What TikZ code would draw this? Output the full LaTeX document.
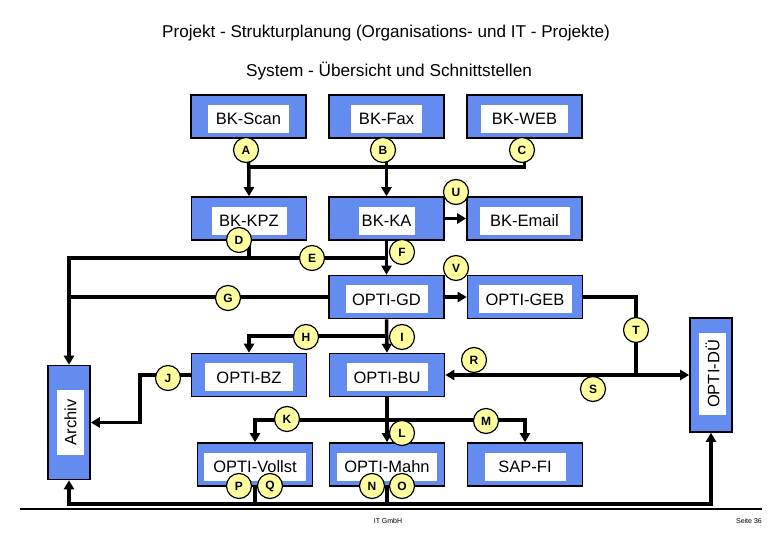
\documentclass[tikz,border=0pt]{standalone}
\usepackage{fontspec}
\setmainfont{Liberation Sans}
\usetikzlibrary{arrows.meta, positioning}
\definecolor{boxblue}{RGB}{100,140,240}
\definecolor{markfill}{RGB}{255,255,160}

\begin{document}
\begin{tikzpicture}[x=1pt, y=-1pt,
    sysbox/.style={draw, line width=1.6pt, fill=boxblue, minimum width=115pt, minimum height=43pt},
    tallbox/.style={sysbox, minimum width=42pt, minimum height=114pt},
    syslabel/.style={fill=white, minimum height=28pt, inner sep=0pt, font=\fontsize{16.5}{18}\selectfont},
    iface/.style={circle, draw, line width=1.2pt, fill=markfill, minimum size=25pt, inner sep=0pt, font=\fontsize{12}{12}\selectfont\bfseries},
    link/.style={line width=3.5pt},
    flow/.style={link, -{Triangle[length=9pt,width=10pt]}},
    both/.style={link, {Triangle[length=9pt,width=10pt]}-{Triangle[length=9pt,width=10pt]}}]
    \useasboundingbox (0,0) rectangle (780,540);

    % titles
    \node[font=\fontsize{17.1}{19}\selectfont] (title) at (386,33) {Projekt - Strukturplanung (Organisations- und IT - Projekte)};
    \node[font=\fontsize{17.2}{19}\selectfont] (subtitle) at (389,71) {System - Übersicht und Schnittstellen};

    % systems
    \node[sysbox] (scan) at (248.5,116.5) {};
    \node[syslabel, minimum width=81pt] at ([yshift=-2.5pt]scan.center) {BK-Scan};
    \node[sysbox] (fax) at (386.5,116.5) {};
    \node[syslabel, minimum width=71pt] at ([yshift=-2.5pt]fax.center) {BK-Fax};
    \node[sysbox] (web) at (524.5,116.5) {};
    \node[syslabel, minimum width=87pt] at ([yshift=-2.5pt]web.center) {BK-WEB};
    \node[sysbox] (kpz) at (249,218.5) {};
    \node[syslabel, minimum width=75pt] at ([yshift=-2.5pt]kpz.center) {BK-KPZ};
    \node[sysbox] (ka) at (386.5,218.5) {};
    \node[syslabel, minimum width=56pt] at ([yshift=-2.5pt]ka.center) {BK-KA};
    \node[sysbox] (email) at (524.5,218.5) {};
    \node[syslabel, minimum width=90pt] at ([yshift=-2.5pt]email.center) {BK-Email};
    \node[sysbox] (gd) at (386.5,297) {};
    \node[syslabel, minimum width=82pt] at ([yshift=-2.5pt]gd.center) {OPTI-GD};
    \node[sysbox] (geb) at (525,297) {};
    \node[syslabel, minimum width=93pt] at ([yshift=-2.5pt]geb.center) {OPTI-GEB};
    \node[sysbox] (bz) at (249,375) {};
    \node[syslabel, minimum width=88pt] at ([yshift=-2.5pt]bz.center) {OPTI-BZ};
    \node[sysbox] (bu) at (387,375) {};
    \node[syslabel, minimum width=81pt] at ([yshift=-2.5pt]bu.center) {OPTI-BU};
    \node[sysbox] (vollst) at (255,464.5) {};
    \node[syslabel, minimum width=102pt] at ([yshift=-2.5pt]vollst.center) {OPTI-Vollst};
    \node[sysbox] (mahn) at (387,464.5) {};
    \node[syslabel, minimum width=100pt] at ([yshift=-2.5pt]mahn.center) {OPTI-Mahn};
    \node[sysbox] (sap) at (525,464.5) {};
    \node[syslabel, minimum width=81pt] at ([yshift=-2.5pt]sap.center) {SAP-FI};
    \node[tallbox] (archiv) at (69,422.5) {};
    \node[syslabel, rotate=90, minimum width=65pt, minimum height=27pt] at ([xshift=1.5pt]archiv.center) {Archiv};
    \node[tallbox] (due) at (711,375) {};
    \node[syslabel, rotate=90, minimum width=82pt, minimum height=27pt] at ([xshift=1.5pt,yshift=1pt]due.center) {OPTI-DÜ};

    % junctions
    \coordinate (abc) at (249,167);
    \coordinate (de) at (386.5,258);
    \coordinate (hi) at (386.5,336);
    \coordinate (jbend) at (140,375);
    \coordinate (rst) at (636,375);
    \coordinate (klm) at (387,420);
    \coordinate (pq) at (255,504);

    % interfaces
    \draw[flow] (scan.south) -- (kpz.north);
    \draw[flow] (fax.south) -- (ka.north);
    \draw[link] (web.south) |- (abc);
    \draw[flow] (ka.east) -- (email.west);
    \draw[link] (kpz.south) -- (kpz.south |- de);
    \draw[flow] (ka.south) -- (gd.north);
    \draw[flow] (de) -| (archiv.north);
    \draw[link] (gd.west) -- (archiv.north |- gd.west);
    \draw[flow] (gd.east) -- (geb.west);
    \draw[flow] (gd.south) -- (bu.north);
    \draw[flow] (hi) -| (bz.north);
    \draw[flow] (bz.west) -- (jbend) |- (archiv.east);
    \draw[link] (geb.east) -| (rst);
    \draw[flow] (rst) -- (bu.east);
    \draw[flow] (rst) -- (due.west);
    \draw[flow] (bu.south) -- (mahn.north);
    \draw[both] (vollst.north) |- (klm) -| (sap.north);
    \draw[both] (archiv.south) |- (pq) -| (due.south);
    \draw[link] (vollst.south) -- (pq);
    \draw[link] (mahn.south) -- (mahn.south |- pq);

    \node[iface] (A) at (246,150) {A};
    \node[iface] (B) at (383,150) {B};
    \node[iface] (C) at (522,150) {C};
    \node[iface] (U) at (456,192) {U};
    \node[iface] (D) at (239,240) {D};
    \node[iface] (E) at (312,258) {E};
    \node[iface] (F) at (402,252) {F};
    \node[iface] (V) at (456,268) {V};
    \node[iface] (G) at (228,298) {G};
    \node[iface] (H) at (306,337) {H};
    \node[iface] (I) at (402,337) {I};
    \node[iface] (J) at (168,378) {J};
    \node[iface] (T) at (636,330) {T};
    \node[iface] (R) at (474,360) {R};
    \node[iface] (S) at (593,389) {S};
    \node[iface] (K) at (287,419) {K};
    \node[iface] (L) at (402,433) {L};
    \node[iface] (M) at (486,421) {M};
    \node[iface] (P) at (239,486) {P};
    \node[iface] (Q) at (270,486) {Q};
    \node[iface] (N) at (372,486) {N};
    \node[iface] (O) at (402,486) {O};

    % footer
    \draw[line width=2pt] (20,509) -- (762,509);
    \node[font=\fontsize{7}{8}\selectfont] (firm) at (388,521) {IT GmbH};
    \node[anchor=east, inner sep=0pt, font=\fontsize{7}{8}\selectfont] (page) at (762,521) {Seite 36};
\end{tikzpicture}
\end{document}
